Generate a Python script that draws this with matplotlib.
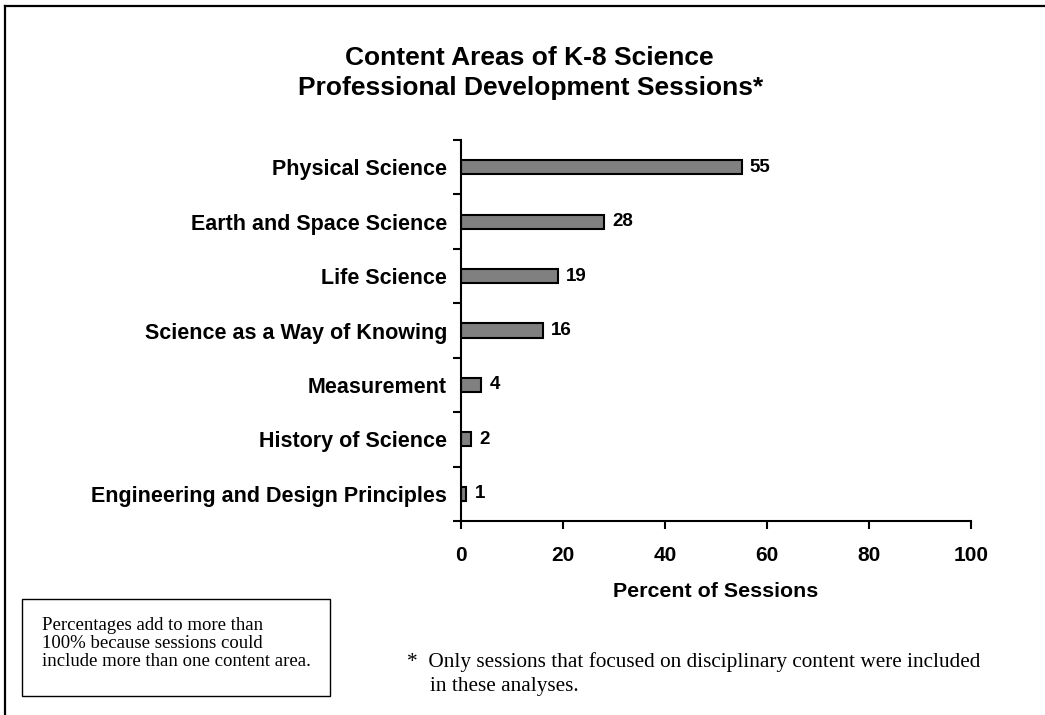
import numpy as np
import matplotlib.pyplot as plt
from matplotlib.lines import Line2D
from matplotlib.patches import Rectangle

# Content areas and percent of sessions
areas = ["Physical Science", "Earth and Space Science", "Life Science",
         "Science as a Way of Knowing", "Measurement", "History of Science",
         "Engineering and Design Principles"]
percents = [55, 28, 19, 16, 4, 2, 1]
xticks = [0, 20, 40, 60, 80, 100]

plt.rcParams['font.family'] = ['Liberation Sans', 'DejaVu Sans']

fig = plt.figure(figsize=(10.45, 7.15), dpi=100)
ax = fig.add_axes([461 / 1045, 194 / 715, 510 / 1045, 381 / 715])

pos = np.arange(len(areas))
bars = ax.barh(pos, percents, height=0.26, color="#808080",
               edgecolor="black", linewidth=1.5)

for b, v in zip(bars, percents):
    ax.annotate(str(v), (b.get_width(), b.get_y() + b.get_height() / 2),
                xytext=(6, 0), textcoords="offset points",
                ha="left", va="center", fontsize=13.5, fontweight="bold")

ax.set_ylim(len(areas) - 0.5, -0.5)
ax.set_xlim(0, 100)
ax.set_yticks(pos)
ax.set_yticklabels(areas, fontsize=15.5, fontweight="bold")
ax.set_yticks(np.arange(len(areas) + 1) - 0.5, minor=True)
ax.tick_params(axis="y", which="major", length=0, pad=10)
ax.tick_params(axis="y", which="minor", length=6, width=1.5, direction="out")
ax.set_xticks(xticks)
ax.set_xticklabels([str(t) for t in xticks], fontsize=15, fontweight="bold")
ax.tick_params(axis="x", length=6, width=1.5, direction="out", pad=12)

for s in ["top", "right"]:
    ax.spines[s].set_visible(False)
for s in ["left", "bottom"]:
    ax.spines[s].set_linewidth(1.5)

ax.set_xlabel("Percent of Sessions", fontsize=15.4, fontweight="bold", labelpad=12)

fig.text(529 / 1045, 1 - 58 / 715, "Content Areas of K-8 Science",
         ha="center", va="center", fontsize=19, fontweight="bold")
fig.text(531 / 1045, 1 - 88 / 715, "Professional Development Sessions*",
         ha="center", va="center", fontsize=19, fontweight="bold")

# outer frame (top and left edges)
fig.add_artist(Line2D([5 / 1045, 1.0], [1 - 6 / 715, 1 - 6 / 715],
                      transform=fig.transFigure, color="black", linewidth=1.6))
fig.add_artist(Line2D([5 / 1045, 5 / 1045], [0, 1 - 6 / 715],
                      transform=fig.transFigure, color="black", linewidth=1.6))

# note box
fig.add_artist(Rectangle((22 / 1045, 1 - 696 / 715), 308 / 1045, 97 / 715,
                         transform=fig.transFigure, fill=False,
                         edgecolor="black", linewidth=1.0))
note_lines = ["Percentages add to more than", "100% because sessions could",
              "include more than one content area."]
for i, line in enumerate(note_lines):
    fig.text(42 / 1045, 1 - (625 + 18.5 * i) / 715, line,
             ha="left", va="center", fontsize=13.5, family="Liberation Serif")

fig.text(407 / 1045, 1 - 662 / 715,
         "*  Only sessions that focused on disciplinary content were included",
         ha="left", va="center", fontsize=15.3, family="Liberation Serif")
fig.text(430 / 1045, 1 - 687 / 715, "in these analyses.",
         ha="left", va="center", fontsize=15.3, family="Liberation Serif")

fig.savefig("out.png", dpi=100)
